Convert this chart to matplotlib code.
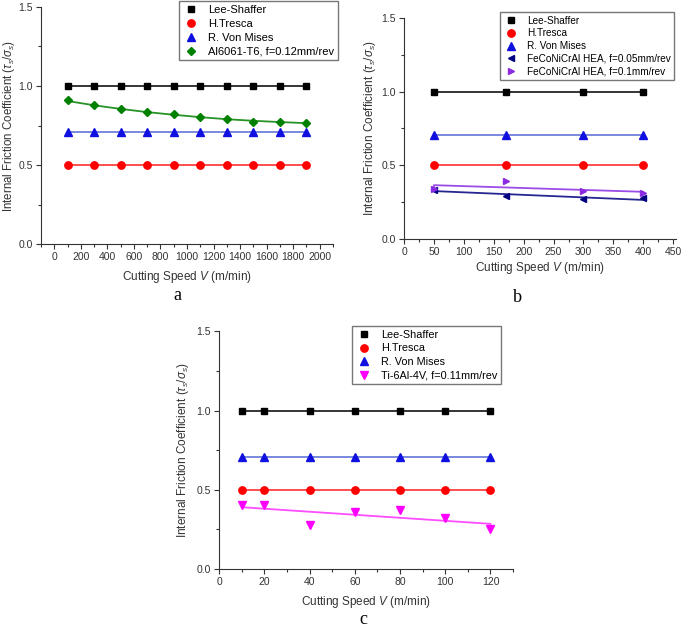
import matplotlib
matplotlib.use('Agg')
import matplotlib.pyplot as plt
from matplotlib.ticker import MultipleLocator

plt.rcParams['font.family'] = ['Liberation Sans', 'DejaVu Sans']
plt.rcParams['mathtext.fontset'] = 'custom'
plt.rcParams['mathtext.rm'] = 'Liberation Sans'
plt.rcParams['mathtext.it'] = 'Liberation Sans:italic'

# panel a
speed_a = [100, 300, 500, 700, 900, 1100, 1300, 1500, 1700, 1900]
al6061 = [0.91, 0.88, 0.855, 0.835, 0.82, 0.805, 0.79, 0.77, 0.775, 0.765]
al6061_fit = [0.905, 0.878, 0.855, 0.835, 0.818, 0.803, 0.79, 0.78, 0.772, 0.765]

# panel b
speed_b = [50, 170, 300, 400]
hea_005 = [0.33, 0.29, 0.27, 0.28]
hea_01 = [0.34, 0.395, 0.325, 0.315]
hea_005_fit_x = [50, 400, 400]
hea_005_fit_y = [0.325, 0.265, 0.285]
hea_01_fit_x = [50, 50, 400, 400]
hea_01_fit_y = [0.335, 0.365, 0.32, 0.305]

# panel c
speed_c = [10, 20, 40, 60, 80, 100, 120]
ti64 = [0.405, 0.405, 0.275, 0.36, 0.375, 0.325, 0.25]
ti64_fit_x = [10, 120]
ti64_fit_y = [0.39, 0.285]

lee_shaffer = 1.0
tresca = 0.5
von_mises = 0.707

ylab = r'Internal Friction Coefficient ($\tau_s$/$\sigma_s$)'
xlab = r'Cutting Speed $V$ (m/min)'


def base(ax, x, xlim, major, minor, ylab_x, ylab_size, xpad):
    n = len(x)
    ax.plot(x, [lee_shaffer] * n, color='black', lw=1.3, alpha=0.85)
    ax.plot(x, [lee_shaffer] * n, 's', color='black', ms=4.8, ls='none', label='Lee-Shaffer')
    ax.plot(x, [tresca] * n, color='red', lw=1.3, alpha=0.75)
    ax.plot(x, [tresca] * n, 'o', color='red', ms=5.3, ls='none', label='H.Tresca')
    ax.plot(x, [von_mises] * n, color='#4a5fd0', lw=1.3, alpha=0.8)
    ax.plot(x, [von_mises] * n, '^', color='#1010e0', ms=5.3, ls='none', label='R. Von Mises')
    ax.set_xlim(*xlim)
    ax.set_ylim(0, 1.5)
    ax.xaxis.set_major_locator(MultipleLocator(major))
    ax.xaxis.set_minor_locator(MultipleLocator(minor))
    ax.yaxis.set_major_locator(MultipleLocator(0.5))
    ax.yaxis.set_minor_locator(MultipleLocator(0.25))
    ax.yaxis.set_major_formatter(plt.FuncFormatter(lambda v, p: '%.1f' % v))
    for s in ['top', 'right']:
        ax.spines[s].set_visible(False)
    for s in ['left', 'bottom']:
        ax.spines[s].set_color('#333333')
    ax.tick_params(which='both', direction='out', labelsize=7.5, colors='#333333', width=0.8, pad=2.5)
    ax.tick_params(which='major', length=3.5)
    ax.tick_params(which='minor', length=2)
    ax.set_xlabel(xlab, fontsize=8.5, color='#333333', labelpad=xpad)
    ax.set_ylabel(ylab, fontsize=ylab_size, color='#333333')
    ax.yaxis.set_label_coords(ylab_x, 0.5)


def legend(ax, right, top, size, spacing):
    ax.legend(loc='upper right', bbox_to_anchor=(right / 685, 1 - top / 634), bbox_transform=fig.transFigure,
              fontsize=size, frameon=True, fancybox=False, edgecolor='#555555', handletextpad=0.8,
              borderpad=0.35, labelspacing=spacing, handlelength=1.5, borderaxespad=0)


fig = plt.figure(figsize=(6.85, 6.34), dpi=100)

ax1 = fig.add_axes([0.060, 0.615, 0.426, 0.374])
base(ax1, speed_a, (-100, 2100), 200, 100, -0.084, 8.3, 5)
ax1.plot(speed_a, al6061_fit, color='green', lw=1.3, alpha=0.85)
ax1.plot(speed_a, al6061, 'D', color='green', ms=4.3, ls='none', label='Al6061-T6, f=0.12mm/rev')
legend(ax1, 338, 1, 8, 0.35)

ax2 = fig.add_axes([0.590, 0.623, 0.397, 0.349])
base(ax2, speed_b, (0, 455), 50, 25, -0.096, 8.5, 2)
ax2.plot(hea_005_fit_x, hea_005_fit_y, color='#000080', lw=1.3, alpha=0.85)
ax2.plot(speed_b, hea_005, '<', color='#000080', ms=4.8, ls='none', label='FeCoNiCrAl HEA, f=0.05mm/rev')
ax2.plot(hea_01_fit_x, hea_01_fit_y, color='#8a2be2', lw=1.3, alpha=0.85)
ax2.plot(speed_b, hea_01, '>', color='#8a2be2', ms=4.8, ls='none', label='FeCoNiCrAl HEA, f=0.1mm/rev')
legend(ax2, 674, 12, 7.2, 0.28)

ax3 = fig.add_axes([0.320, 0.1025, 0.429, 0.375])
base(ax3, speed_c, (0, 130), 20, 10, -0.095, 8.5, 5)
ax3.plot(ti64_fit_x, ti64_fit_y, color='#ff00ff', lw=1.3, alpha=0.7)
ax3.plot(speed_c, ti64, 'v', color='#ff00ff', ms=5.3, ls='none', label='Ti-6Al-4V, f=0.11mm/rev')
legend(ax3, 501, 326, 7.8, 0.33)

fig.text(177 / 685, 1 - 296 / 634, 'a', family='Liberation Serif', fontsize=13, ha='center', va='center')
fig.text(517 / 685, 1 - 298 / 634, 'b', family='Liberation Serif', fontsize=13, ha='center', va='center')
fig.text(363 / 685, 1 - 620 / 634, 'c', family='Liberation Serif', fontsize=13, ha='center', va='center')

fig.savefig('out.png', dpi=100)
